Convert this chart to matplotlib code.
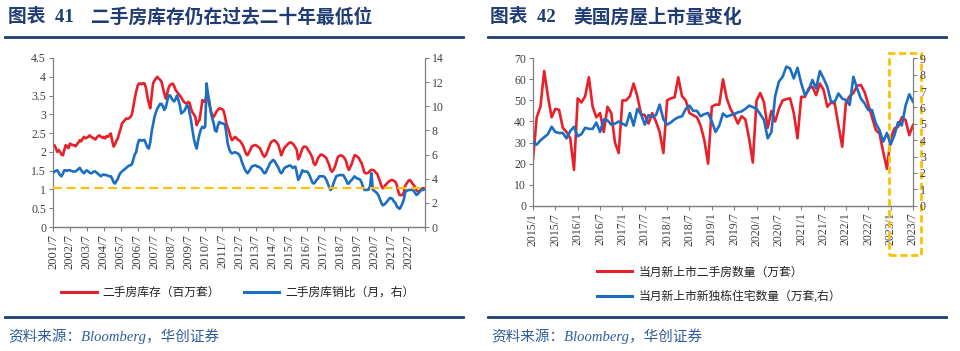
import matplotlib
matplotlib.use('Agg')
import matplotlib.pyplot as plt
import matplotlib.transforms as mtransforms
from matplotlib.lines import Line2D
from matplotlib.patches import Rectangle
import numpy as np

plt.rcParams['font.family'] = ['Liberation Serif', 'Noto Sans CJK SC']
plt.rcParams['axes.unicode_minus'] = False

# ---- chart 41: existing home inventory (millions) and months' supply, monthly 2001/7 - 2023/6
inventory = [
    2.15, 2.18, 2.10, 2.00, 2.05, 2.00, 1.93, 1.91, 2.05, 2.18, 2.15, 2.10,
    2.22, 2.20, 2.18, 2.18, 2.15, 2.20, 2.25, 2.31, 2.28, 2.35, 2.40, 2.36,
    2.38, 2.40, 2.44, 2.40, 2.38, 2.36, 2.33, 2.38, 2.42, 2.44, 2.40, 2.38,
    2.40, 2.36, 2.42, 2.40, 2.45, 2.49, 2.30, 2.14, 2.20, 2.30, 2.36, 2.50,
    2.62, 2.76, 2.80, 2.85, 2.89, 2.88, 2.90, 2.93, 3.00, 3.20, 3.42, 3.60,
    3.75, 3.82, 3.82, 3.80, 3.83, 3.82, 3.70, 3.47, 3.30, 3.16, 3.50, 3.82,
    3.90, 3.95, 4.00, 3.95, 3.92, 3.87, 3.70, 3.55, 3.42, 3.55, 3.70, 3.78,
    3.80, 3.82, 3.75, 3.65, 3.60, 3.55, 3.50, 3.45, 3.38, 3.33, 3.30, 3.29,
    3.33, 3.30, 3.15, 3.05, 3.00, 2.93, 2.71, 2.80, 2.85, 3.10, 3.38, 3.35,
    3.33, 3.55, 3.40, 3.24, 3.10, 2.98, 2.93, 3.00, 3.07, 3.12, 3.16, 3.15,
    3.14, 3.10, 2.95, 2.76, 2.65, 2.54, 2.40, 2.31, 2.35, 2.40, 2.38, 2.33,
    2.31, 2.28, 2.22, 2.15, 2.05, 1.95, 1.91, 1.98, 2.05, 2.14, 2.16, 2.18,
    2.18, 2.15, 2.12, 2.09, 2.00, 1.92, 1.87, 1.91, 2.00, 2.10, 2.20, 2.27,
    2.29, 2.31, 2.28, 2.24, 2.18, 2.05, 1.91, 2.00, 2.10, 2.14, 2.18, 2.22,
    2.25, 2.25, 2.22, 2.18, 2.12, 2.05, 1.80, 1.87, 1.98, 2.09, 2.14, 2.14,
    2.12, 2.05, 2.00, 1.93, 1.85, 1.70, 1.65, 1.72, 1.83, 1.88, 1.93, 1.92,
    1.90, 1.87, 1.83, 1.74, 1.65, 1.52, 1.47, 1.52, 1.60, 1.72, 1.85, 1.89,
    1.91, 1.90, 1.87, 1.83, 1.75, 1.60, 1.52, 1.60, 1.68, 1.80, 1.91, 1.90,
    1.87, 1.84, 1.76, 1.70, 1.58, 1.45, 1.43, 1.43, 1.45, 1.50, 1.52, 1.52,
    1.50, 1.45, 1.42, 1.32, 1.22, 1.10, 1.03, 1.07, 1.12, 1.16, 1.20, 1.23,
    1.25, 1.25, 1.23, 1.20, 1.12, 0.95, 0.85, 0.85, 0.85, 0.92, 1.10, 1.16,
    1.22, 1.25, 1.22, 1.16, 1.12, 1.05, 0.98, 0.94, 0.94, 0.98, 1.03, 1.03,
]
months_supply = [
    4.50, 4.60, 4.65, 4.70, 4.50, 4.30, 4.20, 4.40, 4.70, 4.70, 4.65, 4.70,
    4.70, 4.65, 4.60, 4.60, 4.60, 4.70, 4.80, 4.90, 4.70, 4.55, 4.45, 4.60,
    4.70, 4.60, 4.50, 4.45, 4.50, 4.60, 4.60, 4.50, 4.40, 4.30, 4.20, 4.30,
    4.35, 4.30, 4.30, 4.25, 4.20, 4.20, 4.00, 3.70, 3.60, 3.80, 4.00, 4.30,
    4.50, 4.60, 4.70, 4.80, 4.90, 5.00, 5.10, 5.10, 5.20, 5.60, 6.00, 6.20,
    6.80, 7.20, 7.20, 7.15, 7.20, 7.20, 6.90, 6.60, 6.50, 7.00, 7.90, 8.50,
    9.10, 9.50, 9.80, 10.0, 10.2, 10.2, 10.0, 9.70, 9.90, 10.4, 10.9, 10.9,
    10.7, 10.5, 10.4, 10.6, 10.9, 10.5, 10.1, 9.40, 9.50, 9.60, 9.80, 10.1,
    10.0, 9.40, 8.80, 8.00, 7.30, 6.80, 6.50, 7.20, 7.70, 8.10, 8.30, 8.20,
    8.30, 11.9, 11.0, 10.4, 9.50, 9.00, 8.60, 8.00, 7.90, 8.40, 8.70, 8.60,
    8.60, 8.55, 8.50, 7.80, 6.90, 6.50, 6.20, 6.10, 6.15, 6.20, 6.15, 6.10,
    6.00, 5.80, 5.40, 5.10, 4.80, 4.60, 4.45, 4.60, 4.80, 5.00, 5.05, 5.10,
    5.10, 5.00, 5.00, 4.90, 4.80, 4.60, 4.45, 4.50, 4.80, 5.00, 5.30, 5.40,
    5.55, 5.50, 5.30, 5.10, 4.90, 4.60, 4.45, 4.60, 4.85, 4.95, 5.00, 5.05,
    5.10, 5.05, 4.90, 4.95, 5.00, 4.50, 3.90, 4.10, 4.40, 4.70, 4.60, 4.60,
    4.60, 4.50, 4.30, 4.00, 3.70, 3.60, 3.70, 3.90, 4.00, 4.20, 4.20, 4.20,
    4.20, 4.10, 3.90, 3.60, 3.30, 3.07, 3.20, 3.60, 3.90, 4.20, 4.25, 4.30,
    4.30, 4.30, 4.30, 4.10, 3.90, 3.60, 3.60, 3.80, 3.90, 4.05, 4.20, 4.10,
    4.00, 4.00, 3.90, 3.70, 3.30, 3.07, 3.07, 3.07, 3.10, 3.40, 4.45, 3.07,
    3.00, 2.90, 2.80, 2.60, 2.30, 2.00, 1.80, 1.85, 1.96, 2.10, 2.25, 2.40,
    2.40, 2.30, 2.10, 2.00, 1.70, 1.60, 1.50, 1.70, 1.96, 2.30, 2.90, 3.00,
    3.05, 3.07, 3.07, 3.07, 3.00, 2.80, 2.65, 2.75, 2.90, 3.07, 3.07, 3.10,
]
inventory_floor = 1.03
year_labels = ['2001/7', '2002/7', '2003/7', '2004/7', '2005/7', '2006/7', '2007/7', '2008/7',
               '2009/7', '2010/7', '2011/7', '2012/7', '2013/7', '2014/7', '2015/7', '2016/7',
               '2017/7', '2018/7', '2019/7', '2020/7', '2021/7', '2022/7', '']

# ---- chart 42: new listings, monthly 2015/1 - 2023/7
existing_listings = [
    22, 42, 47, 64, 52, 42, 46, 45.5, 37, 35, 32, 17,
    51, 49, 52, 61, 47, 42, 44, 35, 47, 44, 30, 25,
    50, 50, 52, 58, 52, 43.5, 43, 39, 44, 40, 35, 25,
    50, 51, 51.5, 61, 52, 50, 44, 43, 42, 38, 31, 20,
    47, 48, 48, 60, 51, 46, 43, 39, 42.5, 41, 32, 20.5,
    50, 53.5, 49, 37, 45, 40, 46, 50, 50.6, 51, 44, 32,
    51.7, 51.7, 55.7, 56.5, 52.5, 58, 55, 47, 49, 48.5, 38, 28,
    49, 52, 53.5, 57, 57.3, 54, 48, 42, 36, 34.3, 25.6, 17.5,
    32, 36.7, 37.5, 42, 40.7, 33.5, 38.3,
]
new_single_family = [
    3.86, 3.73, 3.99, 4.18, 4.37, 4.82, 4.50, 4.44, 4.44, 4.11, 4.56, 4.82,
    4.24, 4.37, 4.76, 4.69, 4.69, 5.08, 4.50, 5.27, 5.21, 4.95, 5.01, 5.14,
    5.01, 4.89, 5.66, 4.89, 5.91, 5.59, 4.95, 5.53, 5.43, 5.53, 6.17, 5.27,
    4.95, 5.08, 5.27, 5.40, 5.46, 5.91, 6.11, 5.79, 5.79, 5.46, 5.59, 5.66,
    5.14, 4.50, 4.89, 5.63, 5.43, 5.53, 5.59, 5.70, 5.76, 5.91, 6.11, 6.02,
    5.91, 5.59, 5.23, 4.11, 4.50, 6.69, 7.57, 7.87, 8.49, 8.38, 7.77, 8.42,
    7.47, 6.75, 7.06, 7.68, 7.16, 8.22, 7.77, 7.26, 6.35, 6.35, 6.85, 6.54,
    6.45, 6.15, 7.87, 7.16, 6.54, 6.25, 5.84, 5.84, 5.03, 4.62, 3.91, 4.44,
    3.74, 4.30, 5.10, 4.90, 6.10, 6.80, 6.35,
]
month_labels = ['2015/1', '2015/7', '2016/1', '2016/7', '2017/1', '2017/7', '2018/1', '2018/7',
                '2019/1', '2019/7', '2020/1', '2020/7', '2021/1', '2021/7', '2022/1', '2022/7',
                '2023/1', '2023/7']

RED = '#E8202A'
BLUE = '#1B6EC2'
GOLD = '#FFC000'
NAVY = '#1F3C74'
AXIS = '#808080'
TEXT = '#404040'

W, H = 960, 351
fig = plt.figure(figsize=(W / 100, H / 100), dpi=100)


def fx(px):
    return px / W


def fy(py):
    return 1 - py / H


def style_axes(ax, twin, xsize):
    for ax_ in (ax, twin):
        ax_.spines['top'].set_visible(False)
        for s in ('left', 'right', 'bottom'):
            ax_.spines[s].set_color(AXIS)
            ax_.spines[s].set_linewidth(0.9)
        ax_.tick_params(direction='out', length=3, width=0.8, color=AXIS,
                        labelcolor=TEXT, labelsize=8.5, pad=2)
    ax.spines['right'].set_visible(False)
    twin.spines['left'].set_visible(False)
    ax.tick_params(axis='x', labelsize=xsize, rotation=90)


# ---------------- left chart ----------------
ax1 = fig.add_axes([fx(53), fy(227), fx(425) - fx(53), (227 - 58) / H])
ax1b = ax1.twinx()
x1 = np.arange(len(inventory))
ax1.plot(x1, inventory, color=RED, lw=1.9, solid_joinstyle='round')
ax1b.plot(x1, months_supply, color=BLUE, lw=1.9, solid_joinstyle='round')
ax1b.add_line(Line2D([0, 264], [inventory_floor, inventory_floor], transform=ax1.transData,
                     color=GOLD, lw=1.6, linestyle=(0, (4, 2.2))))
ax1.set_xlim(0, 264)
ax1.set_ylim(0, 4.5)
ax1b.set_ylim(0, 14)
ax1.set_yticks(np.arange(0, 4.51, 0.5))
ax1.set_yticklabels(['0', '0.5', '1', '1.5', '2', '2.5', '3', '3.5', '4', '4.5'])
ax1b.set_yticks(np.arange(0, 15, 2))
ax1.set_xticks(np.arange(0, 265, 12))
ax1.set_xticklabels(year_labels)
style_axes(ax1, ax1b, 9)

fig.legend([Line2D([], [], color=RED, lw=2.2), Line2D([], [], color=BLUE, lw=2.2)],
           ['二手房库存（百万套）', '二手房库销比（月，右）'],
           loc='center', bbox_to_anchor=(fx(238), fy(293)), ncol=2, frameon=False,
           fontsize=8.5, handlelength=3.0, handletextpad=0.5, columnspacing=2.0,
           borderpad=0, borderaxespad=0, labelcolor='#222222')

# ---------------- right chart ----------------
ax2 = fig.add_axes([fx(533), fy(205.7), fx(913) - fx(533), (205.7 - 58.3) / H])
ax2b = ax2.twinx()
x2 = np.arange(len(existing_listings))
ax2.plot(x2, existing_listings, color=RED, lw=1.9, solid_joinstyle='round')
ax2b.plot(x2, new_single_family, color=BLUE, lw=1.9, solid_joinstyle='round')
ax2.set_xlim(0, 102)
ax2.set_ylim(0, 70)
ax2b.set_ylim(0, 9)
ax2.set_yticks(np.arange(0, 71, 10))
ax2b.set_yticks(np.arange(0, 10, 1))
ax2.set_xticks(np.arange(0, 103, 6))
ax2.set_xticklabels(month_labels)
style_axes(ax2, ax2b, 8.5)

box_tf = mtransforms.blended_transform_factory(ax2b.transData, ax2b.transAxes)
ax2b.add_patch(Rectangle((95.6, -0.334), 8.6, 1.37, transform=box_tf, fill=False,
                         edgecolor=GOLD, lw=2.0, linestyle=(0, (2.6, 1.3)), clip_on=False))

fig.legend([Line2D([], [], color=RED, lw=2.2), Line2D([], [], color=BLUE, lw=2.2)],
           ['当月新上市二手房数量（万套）', '当月新上市新独栋住宅数量（万套,右）'],
           loc='center left', bbox_to_anchor=(fx(597), fy(284.5)), ncol=1, frameon=False,
           fontsize=8.5, handlelength=3.0, handletextpad=0.5, labelspacing=1.0,
           borderpad=0, borderaxespad=0, labelcolor='#222222')

# ---------------- titles, rules, sources ----------------
for x0, x1_, num, title in [(8, 91, '41', '二手房库存仍在过去二十年最低位'),
                            (490, 573, '42', '美国房屋上市量变化')]:
    fig.text(fx(x0), fy(17), '图表  ' + num, fontsize=13.5, fontweight='bold', color=NAVY, va='center')
    fig.text(fx(x1_), fy(17), title, fontsize=13.5, fontweight='bold', color=NAVY, va='center')

for xa, xb in [(5, 463), (488, 946)]:
    for yy in (37, 317):
        fig.add_artist(Line2D([fx(xa), fx(xb)], [fy(yy), fy(yy)], color=NAVY, lw=2.0))
    fig.text(fx(xa + 3), fy(336), '资料来源：Bloomberg，华创证券', fontsize=10.5,
             style='italic', color='#2F5C9E', va='center')

fig.savefig('out.png', dpi=100)
